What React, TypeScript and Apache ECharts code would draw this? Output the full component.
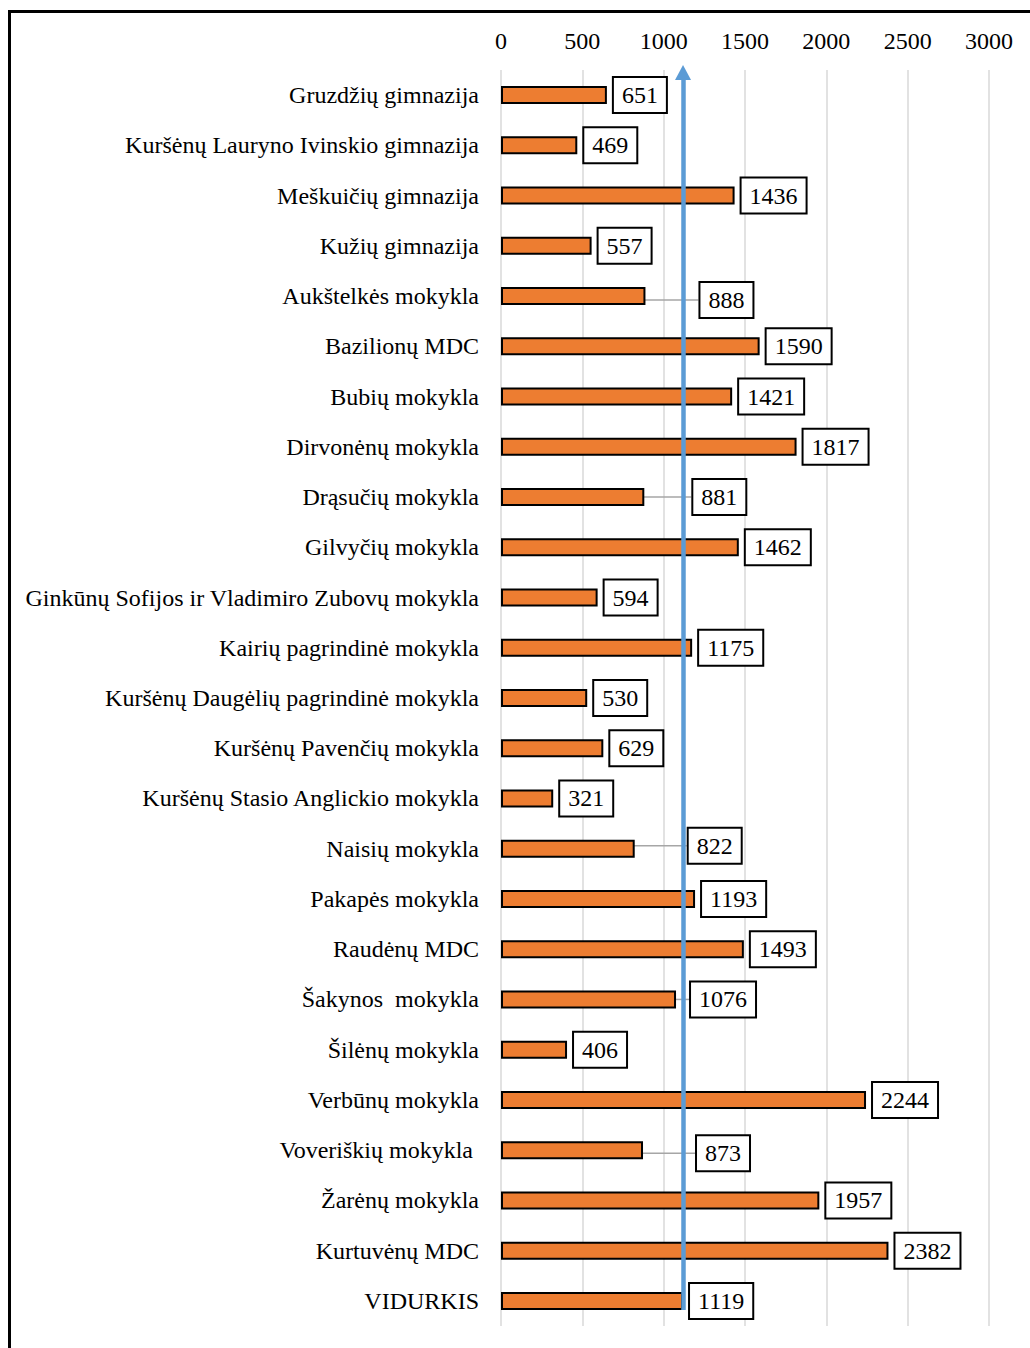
import React, { useEffect, useRef } from "react";
import * as echarts from "echarts";

const categories: string[] = [
  "Gruzdžių gimnazija",
  "Kuršėnų Lauryno Ivinskio gimnazija",
  "Meškuičių gimnazija",
  "Kužių gimnazija",
  "Aukštelkės mokykla",
  "Bazilionų MDC",
  "Bubių mokykla",
  "Dirvonėnų mokykla",
  "Drąsučių mokykla",
  "Gilvyčių mokykla",
  "Ginkūnų Sofijos ir Vladimiro Zubovų mokykla",
  "Kairių pagrindinė mokykla",
  "Kuršėnų Daugėlių pagrindinė mokykla",
  "Kuršėnų Pavenčių mokykla",
  "Kuršėnų Stasio Anglickio mokykla",
  "Naisių mokykla",
  "Pakapės mokykla",
  "Raudėnų MDC",
  "Šakynos  mokykla",
  "Šilėnų mokykla",
  "Verbūnų mokykla",
  "Voveriškių mokykla ",
  "Žarėnų mokykla",
  "Kurtuvėnų MDC",
  "VIDURKIS",
];

const values: number[] = [
  651, 469, 1436, 557, 888, 1590, 1421, 1817, 881, 1462, 594, 1175, 530, 629,
  321, 822, 1193, 1493, 1076, 406, 2244, 873, 1957, 2382, 1119,
];

const averageValue = 1119;
const xTicks = { min: 0, max: 3000, interval: 500 };

// label displacement (styling only) for labels moved beside the average line
const labelShift: Record<string, { dx: number; dy: number }> = {
  "Aukštelkės mokykla": { dx: 48, dy: 4 },
  "Drąsučių mokykla": { dx: 42, dy: 0 },
  "Naisių mokykla": { dx: 47, dy: -3 },
  "Šakynos  mokykla": { dx: 8, dy: 0 },
  "Voveriškių mokykla ": { dx: 47, dy: 3 },
};

const FONT = "Liberation Serif";
const FS = 24;

export default function App() {
  const ref = useRef<HTMLDivElement>(null);

  useEffect(() => {
    if (!ref.current) return;
    const chart = echarts.init(ref.current, null, { renderer: "svg" });
    const n = categories.length;
    chart.setOption({
      animation: false,
      backgroundColor: "#ffffff",
      textStyle: { fontFamily: FONT },
      grid: { left: 501, top: 70, width: 488, bottom: 22, containLabel: false },
      graphic: [
        {
          type: "rect",
          shape: { x: 9.5, y: 11.5, width: 1200, height: 1500 },
          style: { fill: "none", stroke: "#000", lineWidth: 3 },
          silent: true,
          z: 100,
        },
      ],
      xAxis: {
        type: "value",
        position: "top",
        min: xTicks.min,
        max: xTicks.max,
        interval: xTicks.interval,
        axisLine: { show: false },
        axisTick: { show: false },
        axisLabel: {
          fontSize: FS,
          fontFamily: FONT,
          color: "#000",
          margin: 17,
          formatter: (v: number) => String(v),
        },
        splitLine: { show: true, lineStyle: { color: "#d9d9d9", width: 1.5 } },
      },
      yAxis: [
        {
          type: "category",
          inverse: true,
          data: categories,
          axisLine: { show: false },
          axisTick: { show: false },
          axisLabel: {
            fontSize: FS,
            fontFamily: FONT,
            color: "#000",
            margin: 22,
          },
        },
        {
          // helper band-space axis aligned with the category slots
          type: "value",
          inverse: true,
          min: 0,
          max: n,
          show: false,
          splitLine: { show: false },
        },
      ],
      series: [
        {
          type: "bar",
          barWidth: 18,
          data: values.map((v, i) => ({
            value: v,
            labelLine: { show: !!labelShift[categories[i]] },
          })),
          itemStyle: { color: "#ED7D31", borderColor: "#000", borderWidth: 2 },
          label: {
            show: true,
            position: "right",
            distance: 7,
            fontSize: FS,
            lineHeight: 24,
            fontFamily: FONT,
            color: "#000",
            backgroundColor: "#fff",
            borderColor: "#000",
            borderWidth: 2,
            padding: [5, 8, 5, 8],
          },
          labelLine: { show: false, lineStyle: { color: "#a6a6a6", width: 1.5 } },
          labelLayout: (params: any) => {
            const s = labelShift[categories[params.dataIndex]];
            return s ? { dx: s.dx, dy: s.dy } : {};
          },
        },
        {
          type: "line",
          yAxisIndex: 1,
          data: [],
          silent: true,
          markLine: {
            silent: true,
            symbol: ["none", "triangle"],
            symbolSize: [16, 15],
            label: { show: false },
            lineStyle: { color: "#5B9BD5", width: 4.5, type: "solid" },
            data: [
              [
                { coord: [averageValue, n - 0.32] },
                { coord: [averageValue, 0.05] },
              ],
            ],
          },
        },
      ],
    });
    return () => chart.dispose();
  }, []);

  return (
    <div
      ref={ref}
      style={{ position: "absolute", left: 0, top: 0, width: 1030, height: 1348 }}
    />
  );
}
